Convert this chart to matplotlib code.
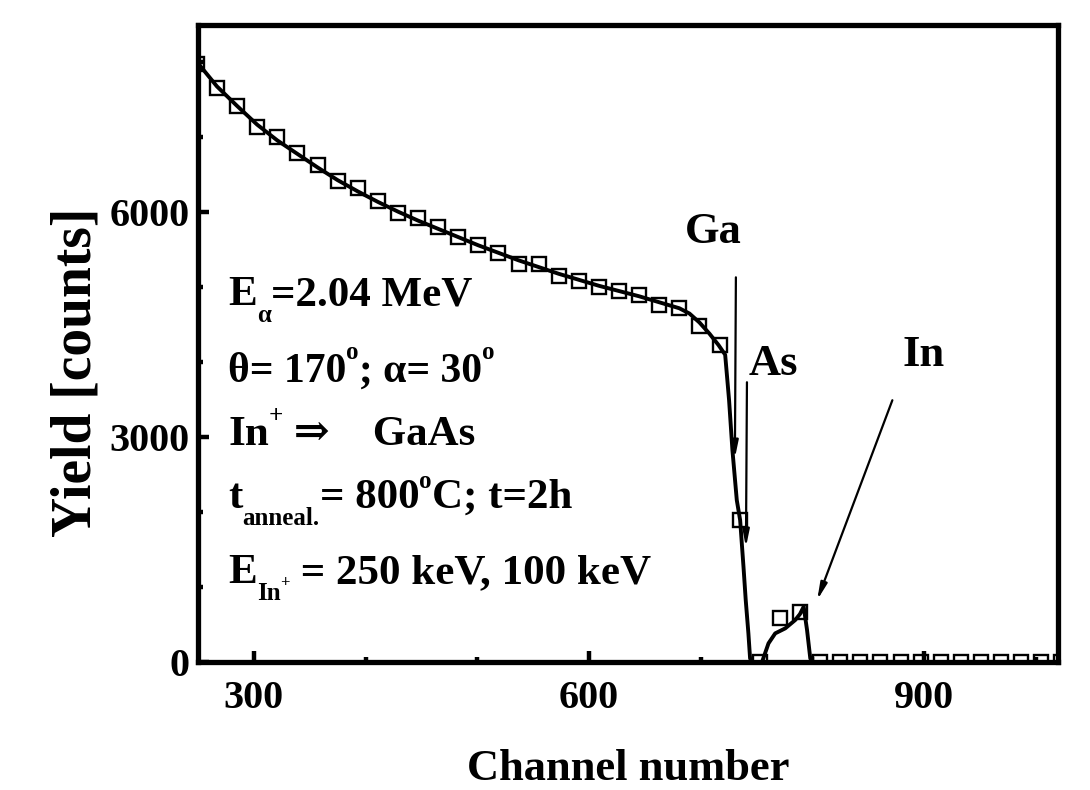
import matplotlib
matplotlib.use("Agg")
import matplotlib.pyplot as plt
from matplotlib.ticker import MultipleLocator

# ---------------- data ----------------
exp_channel = [249, 267, 285, 303, 321, 339, 357, 375, 393, 411, 429, 447, 465,
               483, 501, 519, 537, 555, 573, 591, 609, 627, 645, 663, 681, 699,
               717, 735, 753, 771, 789, 807, 825, 843, 861, 879, 897, 915, 933,
               951, 969, 987, 1005, 1023]
exp_yield = [7980, 7653, 7413, 7133, 7000, 6787, 6627, 6413, 6320, 6147, 5987,
             5920, 5800, 5667, 5560, 5453, 5307, 5307, 5147, 5080, 5000, 4947,
             4893, 4760, 4720, 4480, 4227, 1893, 0, 587, 667, 0, 0, 0, 0, 0, 0,
             0, 0, 0, 0, 0, 0, 0]

sim_channel = [250, 267, 285, 303, 321, 339, 357, 375, 393, 411, 429, 447, 465,
               483, 501, 519, 537, 555, 573, 591, 609, 627, 645, 663, 681, 690,
               699, 708, 716, 722, 725.5, 728.5, 732.4, 735.4, 738.4, 740.4,
               742.8, 744.3, 746, 755, 760.8, 766.8, 775.8, 784.7, 789, 792.3,
               795.3, 798.2, 800, 1020]
sim_yield = [7990, 7680, 7420, 7170, 6960, 6780, 6600, 6430, 6280, 6140, 6010,
             5890, 5780, 5670, 5560, 5460, 5360, 5270, 5180, 5100, 5020, 4950,
             4880, 4800, 4720, 4650, 4530, 4380, 4230, 4100, 3493, 2827, 2160,
             1893, 1271, 827, 382, 49, 0, 0, 249, 382, 449, 560, 640, 738,
             427, 49, 0, 0]

x_ticks = [300, 600, 900]
y_ticks = [0, 3000, 6000]

# ---------------- style ----------------
plt.rcParams['font.family'] = ['Liberation Serif', 'DejaVu Serif']
plt.rcParams['font.weight'] = 'bold'

fig = plt.figure(figsize=(10.9, 7.9), dpi=100)
ax = fig.add_axes([198 / 1090, 1 - 662 / 790, 860 / 1090, 637 / 790])

ax.plot(sim_channel, sim_yield, color='black', lw=2.8, zorder=3)
ax.plot(exp_channel, exp_yield, linestyle='none', marker='s', ms=10,
        mfc='none', mec='black', mew=1.7, zorder=4)

ax.set_xlim(250, 1020)
ax.set_ylim(0, 8500)
ax.set_xticks(x_ticks)
ax.set_yticks(y_ticks)
ax.xaxis.set_minor_locator(MultipleLocator(100))
ax.yaxis.set_minor_locator(MultipleLocator(1000))

for s in ax.spines.values():
    s.set_linewidth(3.8)

ax.tick_params(which='both', direction='in', top=False, right=False)
ax.tick_params(which='major', length=8, width=3.2, labelsize=29)
ax.tick_params(which='minor', length=3.5, width=3.2)
ax.tick_params(axis='x', which='major', pad=13)
ax.tick_params(axis='y', which='major', pad=6)

ax.set_xlabel('Channel number', fontsize=32, fontweight='bold')
ax.set_ylabel('Yield [counts]', fontsize=40, fontweight='bold')
ax.xaxis.set_label_coords(0.5, -0.137)
ax.yaxis.set_label_coords(-0.111, 0.454)

# ---------------- annotation text block (rich text built from pieces) ----------------
renderer = fig.canvas.get_renderer()
BIG = 31
SMALL = 18


def rich_line(x0, y0, pieces, size_big=BIG):
    """pieces: list of (text, vertical offset in points, fontsize)"""
    x_off = 0.0
    for txt, dy, size in pieces:
        t = ax.annotate(txt, xy=(x0, y0), xycoords='axes fraction',
                        xytext=(x_off, dy), textcoords='offset points',
                        fontsize=size, fontweight='bold',
                        ha='left', va='baseline')
        bb = t.get_window_extent(renderer)
        x_off += bb.width * 72.0 / fig.dpi


SUB = -12
SUP = 16
x0 = 0.035
rich_line(x0, 0.560, [("E", 0, BIG), ("α", SUB, SMALL), ("=2.04 MeV", 0, BIG)])
rich_line(x0, 0.440, [("θ= 170", 0, 30), ("o", SUP, SMALL), ("; α= 30", 0, 30),
                      ("o", SUP, SMALL)])
rich_line(x0, 0.341, [("In", 0, BIG), ("+", SUP, SMALL), (" ⇒    GaAs", 0, BIG)])
rich_line(x0, 0.242, [("t", 0, BIG), ("anneal.", SUB, SMALL), ("= 800", 0, BIG),
                      ("o", SUP - 2, SMALL), ("C; t=2h", 0, BIG)])
rich_line(x0, 0.124, [("E", 0, BIG), ("In", SUB, SMALL), ("+", -3, 12),
                      (" = 250 keV, 100 keV", 0, BIG)])

# element labels and arrows
ax.text(711, 5587, 'Ga', fontsize=32, fontweight='bold', ha='center', va='baseline')
ax.text(765, 3827, 'As', fontsize=32, fontweight='bold', ha='center', va='baseline')
ax.text(900, 3947, 'In', fontsize=32, fontweight='bold', ha='center', va='baseline')

arrow_kw = dict(arrowstyle='-|>,head_length=1.0,head_width=0.2', color='black',
                lw=1.6, shrinkA=0, shrinkB=0)
ax.annotate('', xy=(730.7, 2720), xytext=(731.6, 5133), arrowprops=arrow_kw)
ax.annotate('', xy=(740.6, 1533), xytext=(741.5, 3733), arrowprops=arrow_kw)
ax.annotate('', xy=(804.4, 827), xytext=(871.7, 3493), arrowprops=arrow_kw)

fig.savefig('out.png', dpi=100)
